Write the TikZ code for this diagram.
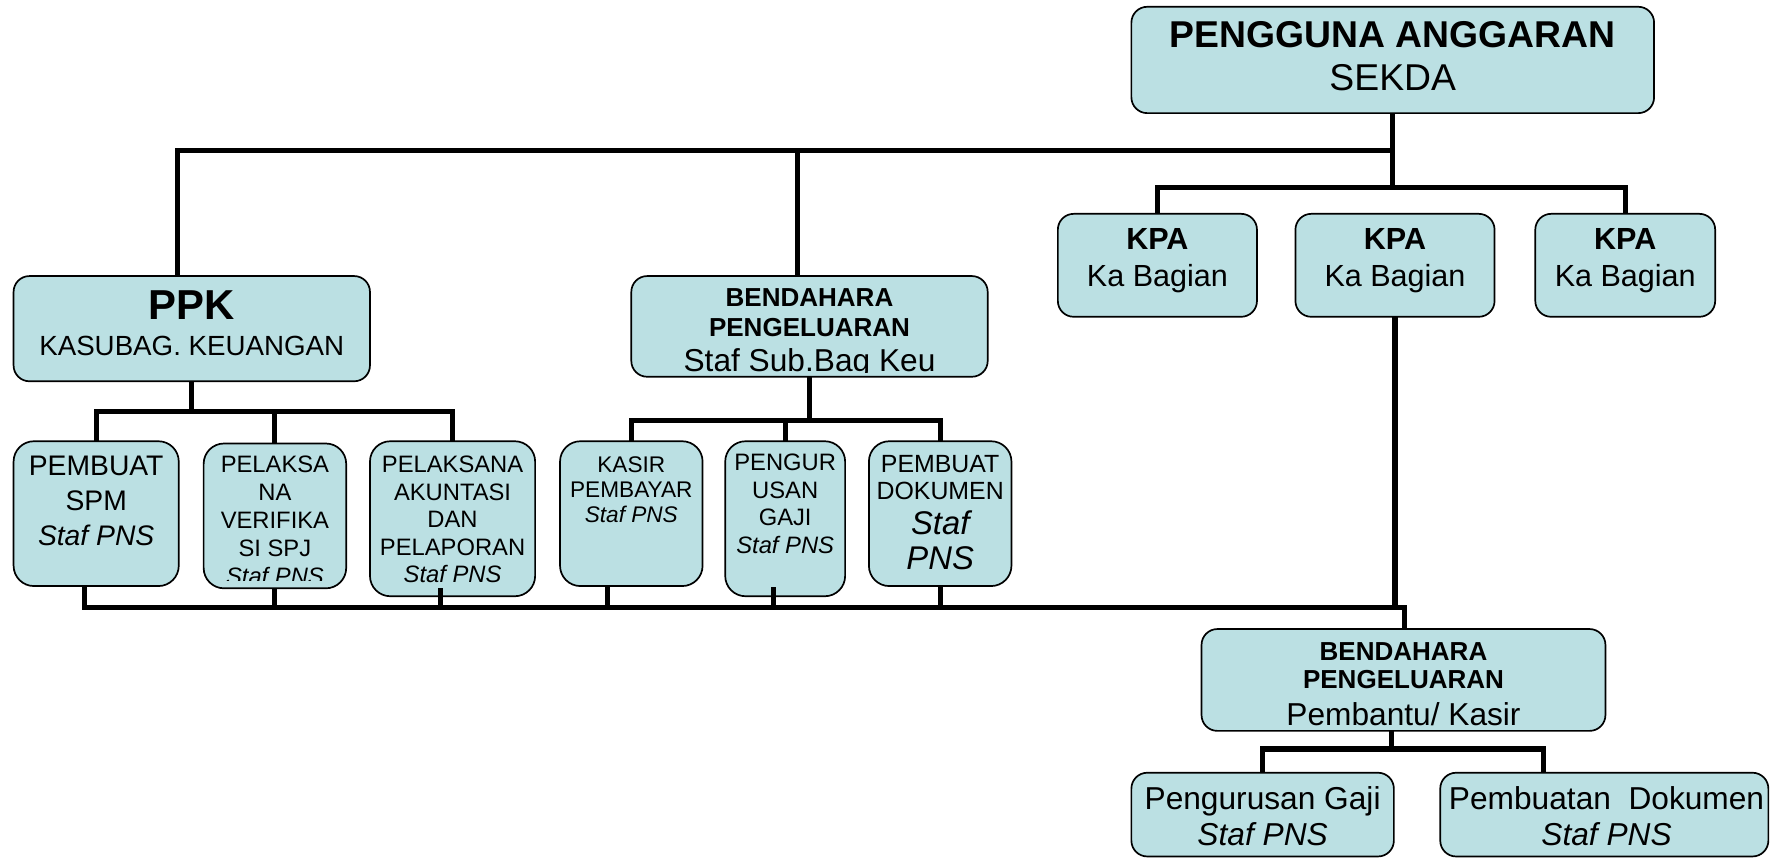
\documentclass[tikz,border=0pt]{standalone}
\usepackage{fontspec}
\setmainfont{Liberation Sans}
\newcommand\myfs[2]{\fontsize{#1pt}{#2pt}\selectfont}
\definecolor{boxfill}{HTML}{BBE0E3}
\begin{document}
\begin{tikzpicture}[x=1pt,y=-1pt,
  box/.style={draw=black, line width=1.5pt, fill=boxfill, rounded corners=14pt, inner sep=0pt, outer sep=0pt},
  sbox/.style={box, rounded corners=18pt},
  txt/.style={inner sep=0pt, outer sep=0pt, anchor=north, align=center},
  conn/.style={line width=4.5pt, line cap=butt, line join=miter}]
\useasboundingbox (0,0) rectangle (1568,758);
% boxes
\node[box, minimum width=462pt, minimum height=94pt] (top) at (1231,53) {};
\node[box, minimum width=315pt, minimum height=93pt] (ppk) at (169.5,290.5) {};
\node[box, minimum width=315pt, minimum height=89pt] (bm) at (715.5,288.5) {};
\node[box, minimum width=176pt, minimum height=91pt] (kpa1) at (1023,234.5) {};
\node[box, minimum width=176pt, minimum height=91pt] (kpa2) at (1233,234.5) {};
\node[box, minimum width=159pt, minimum height=91pt] (kpa3) at (1436.5,234.5) {};
\node[sbox, minimum width=146pt, minimum height=128pt] (spm) at (85,454) {};
\node[sbox, minimum width=126pt, minimum height=128pt] (ver) at (243,456) {};
\node[sbox, minimum width=146pt, minimum height=137pt] (aku) at (400,458.5) {};
\node[sbox, minimum width=126pt, minimum height=128pt] (kas) at (558,454) {};
\node[sbox, minimum width=106pt, minimum height=137pt] (gaji) at (694,458.5) {};
\node[sbox, minimum width=126pt, minimum height=128pt] (dok) at (831,454) {};
\node[box, minimum width=357pt, minimum height=90pt] (bp) at (1240.5,601) {};
\node[box, minimum width=232pt, minimum height=74pt] (pg) at (1116,720) {};
\node[box, minimum width=290pt, minimum height=74pt] (pd) at (1418,720) {};
% texts
\node[txt, font={\myfs{33}{38}}] (top-t) at (1231,19) {\textbf{PENGGUNA ANGGARAN}\\SEKDA};
\node[txt, font={\myfs{37}{40}\bfseries}] (ppk-t1) at (169.5,256.7) {PPK};
\node[txt, font={\myfs{24.5}{28}}] (ppk-t2) at (169.5,297.2) {KASUBAG. KEUANGAN};
\node[txt, font={\myfs{23}{27}\bfseries}] (bm-t1) at (715.5,254.7) {BENDAHARA\\PENGELUARAN};
\begin{scope}
\clip (558,244) rectangle (873,329);
\node[txt, font={\myfs{28}{32}}] (bm-t2) at (715.5,308) {Staf Sub.Bag Keu};
\end{scope}
\node[txt, font={\myfs{27}{32}}] (kpa1-t) at (1023,202.3) {\textbf{KPA}\\Ka Bagian};
\node[txt, font={\myfs{27}{32}}] (kpa2-t) at (1233,202.3) {\textbf{KPA}\\Ka Bagian};
\node[txt, font={\myfs{27}{32}}] (kpa3-t) at (1436.5,202.3) {\textbf{KPA}\\Ka Bagian};
\node[txt, font={\myfs{25}{31}}] (spm-t) at (85,403) {PEMBUAT\\SPM\\\textit{Staf PNS}};
\begin{scope}
\clip (180,392) rectangle (306,513);
\node[txt, font={\myfs{21}{24.7}}] (ver-t) at (243,403.4) {PELAKSA\\NA\\VERIFIKA\\SI SPJ\\\textit{Staf PNS}};
\end{scope}
\node[txt, font={\myfs{21}{24.3}}] (aku-t) at (400,403.4) {PELAKSANA\\AKUNTASI\\DAN\\PELAPORAN\\\textit{Staf PNS}};
\node[txt, font={\myfs{20}{22}}] (kas-t) at (558,403.8) {KASIR\\PEMBAYAR\\\textit{Staf PNS}};
\node[txt, font={\myfs{21}{24.3}}] (gaji-t) at (694,401.4) {PENGUR\\USAN\\GAJI\\\textit{Staf PNS}};
\node[txt, font={\myfs{22}{24}}] (dok-t1) at (831,402.1) {PEMBUAT\\DOKUMEN};
\node[txt, font={\myfs{29}{31}\itshape}] (dok-t2) at (831,451.6) {Staf\\PNS};
\node[txt, font={\myfs{23}{25}\bfseries}] (bp-t1) at (1240.5,567.7) {BENDAHARA\\PENGELUARAN};
\node[txt, font={\myfs{28}{32}}] (bp-t2) at (1240.5,621) {Pembantu/ Kasir};
\node[txt, font={\myfs{28}{32}}] (pg-t) at (1116,695) {Pengurusan Gaji\\\textit{Staf PNS}};
\node[txt, font={\myfs{28}{32}}] (pd-t) at (1420,695) {Pembuatan\ \ Dokumen\\\textit{Staf PNS}};
% junction coordinates
\coordinate (m1) at (157,133);
\coordinate (m2) at (705,133);
\coordinate (yk) at (0,166);
\coordinate (p1) at (0,364);
\coordinate (r1) at (0,372);
\coordinate (b1) at (75,537);
\coordinate (b3) at (389,537);
\coordinate (a3) at (389,520);
\coordinate (b4) at (537,537);
\coordinate (b5) at (684,537);
\coordinate (a5) at (684,519);
\coordinate (b7) at (1233,537);
\coordinate (b8) at (1241,537);
\coordinate (q0) at (1230,662);
\coordinate (q1) at (1116,662);
\coordinate (q2) at (1364,662);
% connectors
\draw[conn] (top.south) -- (top.south |- yk);
\draw[conn] (ppk.north -| m1) -- (m1) -- (m1 -| top.south);
\draw[conn] (bm.north -| m2) -- (m2);
\draw[conn] (kpa1.north) -- (kpa1.north |- yk) -- (kpa3.north |- yk) -- (kpa3.north);
\draw[conn] (ppk.south) -- (ppk.south |- p1);
\draw[conn] (spm.north) -- (spm.north |- p1) -- (aku.north |- p1) -- (aku.north);
\draw[conn] (ver.north) -- (ver.north |- p1);
\draw[conn] (bm.south) -- (bm.south |- r1);
\draw[conn] (kas.north) -- (kas.north |- r1) -- (dok.north |- r1) -- (dok.north);
\draw[conn] (gaji.north) -- (gaji.north |- r1);
\draw[conn] (spm.south -| b1) -- (b1) -- (b7);
\draw[conn] (ver.south) -- (ver.south |- b1);
\draw[conn] (a3) -- (b3);
\draw[conn] (kas.south -| b4) -- (b4);
\draw[conn] (a5) -- (b5);
\draw[conn] (dok.south) -- (dok.south |- b1);
\draw[conn] (kpa2.south) -- (b7) -- (b8) -- (bp.north -| b8);
\draw[conn] (bp.south -| q0) -- (q0);
\draw[conn] (pg.north -| q1) -- (q1) -- (q2) -- (pd.north -| q2);
\end{tikzpicture}
\end{document}
